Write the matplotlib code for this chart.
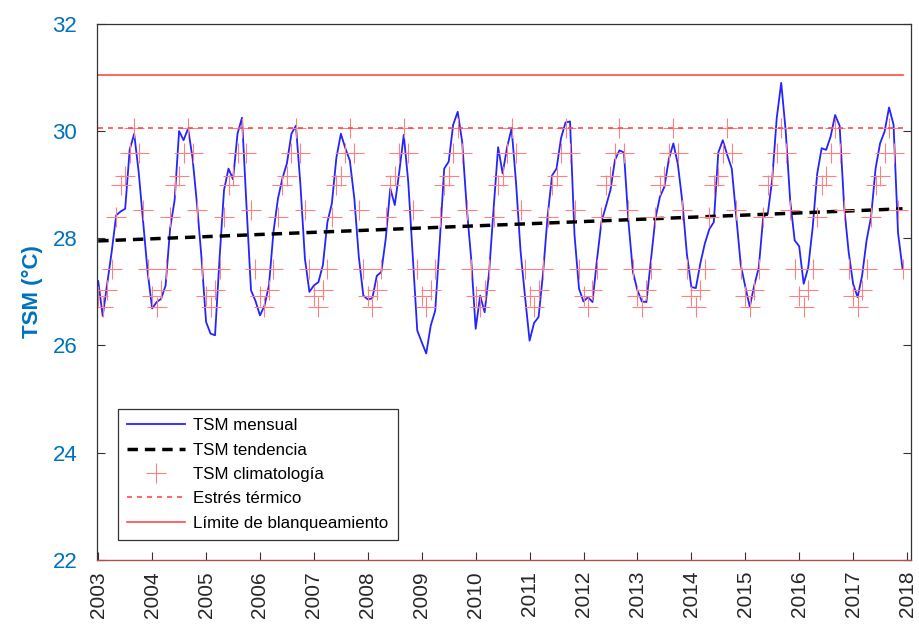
import numpy as np
import matplotlib
matplotlib.use('Agg')
import matplotlib.pyplot as plt

plt.rcParams['font.family'] = ['Liberation Sans', 'DejaVu Sans']

# TSM mensual (°C), enero 2003 - diciembre 2017
tsm_2003 = [27.20, 26.55, 27.15, 27.75, 28.43, 28.50, 28.55, 29.65, 29.95, 29.24, 28.31, 27.37]
tsm_2004 = [26.69, 26.81, 26.87, 27.12, 28.18, 28.71, 30.00, 29.83, 30.05, 29.49, 28.62, 27.62]
tsm_2005 = [26.44, 26.22, 26.19, 27.62, 28.90, 29.30, 29.10, 29.95, 30.25, 28.60, 27.03, 26.83]
tsm_2006 = [26.56, 26.74, 27.12, 28.12, 28.74, 29.12, 29.40, 29.95, 30.10, 29.00, 27.62, 27.00]
tsm_2007 = [27.12, 27.18, 27.50, 28.30, 28.65, 29.50, 29.95, 29.68, 29.45, 28.74, 27.65, 26.93]
tsm_2008 = [26.86, 26.88, 27.30, 27.37, 28.00, 28.93, 28.62, 29.24, 29.93, 29.05, 27.65, 26.28]
tsm_2009 = [26.06, 25.85, 26.37, 26.65, 27.93, 29.30, 29.43, 30.12, 30.36, 29.80, 28.59, 27.62]
tsm_2010 = [26.31, 26.93, 26.62, 27.37, 28.56, 29.70, 29.21, 29.70, 30.05, 29.02, 27.75, 26.90]
tsm_2011 = [26.09, 26.42, 26.53, 27.35, 28.40, 29.17, 29.30, 29.87, 30.16, 30.18, 28.06, 27.06]
tsm_2012 = [26.82, 26.90, 26.81, 27.60, 28.31, 28.60, 28.90, 29.46, 29.64, 29.60, 28.31, 27.37]
tsm_2013 = [27.03, 26.82, 26.81, 27.59, 28.37, 28.77, 28.96, 29.48, 29.77, 29.38, 28.68, 27.71]
tsm_2014 = [27.09, 27.07, 27.53, 27.90, 28.17, 28.30, 29.60, 29.83, 29.55, 29.30, 28.40, 27.50]
tsm_2015 = [27.10, 26.72, 27.12, 27.45, 28.40, 28.45, 29.10, 30.24, 30.90, 30.00, 28.70, 27.96]
tsm_2016 = [27.85, 27.15, 27.45, 28.20, 29.20, 29.68, 29.65, 29.90, 30.30, 30.10, 28.60, 27.75]
tsm_2017 = [27.15, 26.90, 27.30, 27.96, 28.40, 29.30, 29.77, 29.99, 30.44, 30.12, 28.10, 27.43]

# climatología mensual (ene-dic)
climatologia = [26.92, 26.72, 27.04, 27.42, 28.39, 28.99, 29.16, 29.59, 30.05, 29.59, 28.52, 27.42]

tendencia_ini = 27.95
tendencia_fin = 28.55
estres_termico = 30.05
limite_blanqueamiento = 31.05

anios = list(range(2003, 2019))

tsm = np.concatenate([tsm_2003, tsm_2004, tsm_2005, tsm_2006, tsm_2007, tsm_2008,
                      tsm_2009, tsm_2010, tsm_2011, tsm_2012, tsm_2013, tsm_2014,
                      tsm_2015, tsm_2016, tsm_2017])
t = 2003 + np.arange(len(tsm)) / 12.0
clim = np.tile(climatologia, len(tsm) // 12)
tend = np.linspace(tendencia_ini, tendencia_fin, len(tsm))

azul = '#0072BD'

fig = plt.figure(figsize=(9.2, 6.29), dpi=100)
ax = fig.add_axes([0.105, 0.110, 0.885, 0.852])

ax.plot(t, tsm, color='#2424ff', lw=1.3, label='TSM mensual')
ax.plot(t, tend, color='black', lw=2.5, linestyle=(0, (3, 2)), label='TSM tendencia')
ax.plot(t, clim, linestyle='none', marker='+', ms=15, mew=0.8, color='#ff8080',
        label='TSM climatología')
ax.plot(t, np.full(len(t), estres_termico), color='#ff4a4a', lw=1.2,
        linestyle=(0, (3, 3)), label='Estrés térmico')
ax.plot(t, np.full(len(t), limite_blanqueamiento), color='#ff4a4a', lw=1.2,
        label='Límite de blanqueamiento')

ax.set_xlim(2002.97, 2018.07)
ax.set_ylim(22, 32)
ax.set_xticks(anios)
ax.set_xticklabels([str(a) for a in anios], rotation=90, fontsize=15, color='#262626')
ax.set_yticks([22, 24, 26, 28, 30, 32])
ax.tick_params(axis='y', labelsize=16, labelcolor=azul, direction='in', length=6,
               pad=14, right=True, color='#333333')
ax.tick_params(axis='x', direction='in', length=6, pad=8, color='#333333')
ax.set_ylabel('TSM (°C)', fontsize=16, fontweight='bold', color=azul, labelpad=7)

for s in ['left', 'right', 'top']:
    ax.spines[s].set_color('#333333')
    ax.spines[s].set_linewidth(0.9)
ax.spines['bottom'].set_color('#b0504a')
ax.spines['bottom'].set_linewidth(1.0)

leg = ax.legend(loc='lower left', bbox_to_anchor=(0.026, 0.037), borderaxespad=0,
                fontsize=12.2, handlelength=3.4, handletextpad=0.5, fancybox=False,
                framealpha=1, edgecolor='#333333', labelspacing=0.55, borderpad=0.55)
leg.get_frame().set_linewidth(0.9)

fig.savefig('out.png', dpi=100)
